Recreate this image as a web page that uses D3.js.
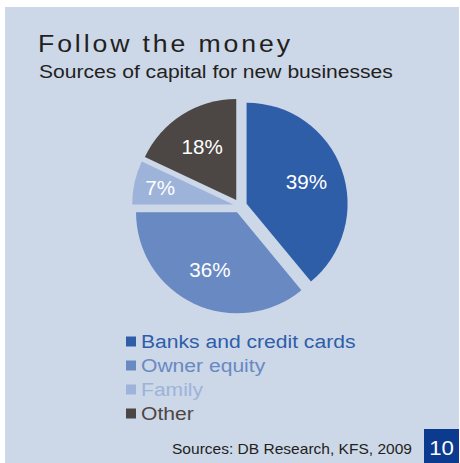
<!DOCTYPE html>
<html>
<head>
<meta charset="utf-8">
<script src="https://cdn.jsdelivr.net/npm/d3@7"></script>
<style>
  html, body { margin: 0; padding: 0; background: #ffffff; }
  svg { display: block; }
  text { font-family: "Liberation Sans", Arial, sans-serif; }
</style>
</head>
<body>
<svg id="chart" width="460" height="463"></svg>
<script>
// Sources of capital for new businesses (shares, %)
const categories = ["Banks and credit cards", "Owner equity", "Family", "Other"];
const shares = [39, 36, 7, 18];
const colors = ["#2f5ea9", "#6889c2", "#9db3da", "#4c4745"];

const titleText = "Follow the money";
const subtitleText = "Sources of capital for new businesses";
const sourceText = "Sources: DB Research, KFS, 2009";
const pageNumber = "10";

const W = 460, H = 463;
const wide = 1.11; // horizontal stretch of the house typeface
const svg = d3.select("#chart");

// text placed at (x, y) and stretched horizontally
function stretched(sel, x, y) {
  return sel.attr("transform", `translate(${x},${y}) scale(${wide},1)`);
}

// panel background
svg.append("rect")
  .attr("x", 5).attr("y", 7)
  .attr("width", 454).attr("height", H - 7)
  .attr("fill", "#ccd7e8");

// headings
stretched(svg.append("text"), 38, 52)
  .attr("font-size", 24)
  .attr("letter-spacing", 2.6)
  .attr("fill", "#231f20")
  .text(titleText);

stretched(svg.append("text"), 39, 78)
  .attr("font-size", 19)
  .attr("fill", "#231f20")
  .text(subtitleText);

// exploded pie
const cx = 240, cy = 206, radius = 101, explode = 7;
const pie = d3.pie().sort(null).value(d => d.value);
const arc = d3.arc().innerRadius(0).outerRadius(radius);
const data = categories.map((c, i) => ({ name: c, value: shares[i], color: colors[i] }));
const arcs = pie(data);

const pieG = svg.append("g").attr("transform", `translate(${cx},${cy})`);

const slice = pieG.selectAll("g.slice")
  .data(arcs)
  .join("g")
  .attr("class", "slice")
  .attr("transform", d => {
    const a = (d.startAngle + d.endAngle) / 2;
    return `translate(${explode * Math.sin(a)},${-explode * Math.cos(a)})`;
  });

slice.append("path")
  .attr("d", arc)
  .attr("fill", d => d.data.color);

slice.append("text")
  .attr("transform", d => {
    const a = (d.startAngle + d.endAngle) / 2;
    const lr = radius * (d.data.value < 10 ? 0.74 : 0.63);
    return `translate(${lr * Math.sin(a)},${-lr * Math.cos(a)}) scale(1.03,1)`;
  })
  .attr("text-anchor", "middle")
  .attr("dy", "0.36em")
  .attr("font-size", 20)
  .attr("fill", "#ffffff")
  .text(d => d.data.value + "%");

// legend
const legend = svg.append("g").attr("transform", "translate(126,336)");
const row = legend.selectAll("g")
  .data(data)
  .join("g")
  .attr("transform", (d, i) => `translate(0,${i * 24})`);
row.append("rect")
  .attr("x", 0).attr("y", 0.5)
  .attr("width", 10).attr("height", 10)
  .attr("fill", d => d.color);
row.append("text")
  .attr("transform", `translate(15,12) scale(${wide},1)`)
  .attr("font-size", 19)
  .attr("fill", d => d.color)
  .text(d => d.name);

// source note and page number
svg.append("text")
  .attr("transform", `translate(412,454) scale(${wide},1)`)
  .attr("text-anchor", "end")
  .attr("font-size", 14)
  .attr("fill", "#231f20")
  .text(sourceText);

svg.append("rect")
  .attr("x", 424).attr("y", 429)
  .attr("width", 35).attr("height", 34)
  .attr("fill", "#0b3a8f");
svg.append("text")
  .attr("transform", `translate(441.5,455) scale(${wide},1)`)
  .attr("text-anchor", "middle")
  .attr("font-size", 20)
  .attr("fill", "#ffffff")
  .text(pageNumber);
</script>
</body>
</html>
